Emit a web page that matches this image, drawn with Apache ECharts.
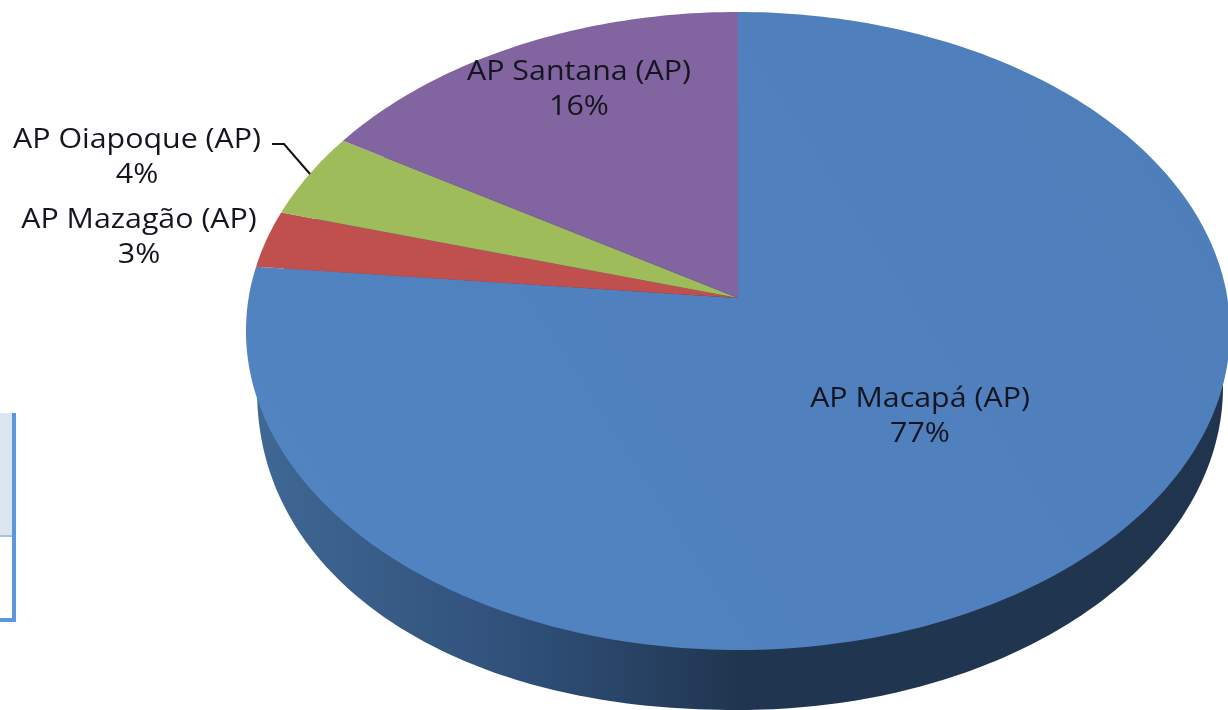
<!DOCTYPE html>
<html>
	<head>
		<meta charset="UTF-8">
		<title>Pizza AP</title>
		<style>html,body{margin:0;padding:0;background:#fff;}</style>
		<script src="https://cdn.jsdelivr.net/npm/echarts@6/dist/echarts.min.js"></script>
	</head>
	<body>
		<div id="main" style="width:1228px;height:710px;"></div>
		<script type="text/javascript">
		var categories = ['AP Macapá (AP)', 'AP Mazagão (AP)', 'AP Oiapoque (AP)', 'AP Santana (AP)'];
		var values = [76.6, 2.9, 4.3, 16.2];
		var colors = ['#4f81bf', '#c0504d', '#9fbc5a', '#8264a1'];

		// onde fica o texto de cada fatia (topo da primeira linha)
		var labelPos = [[920, 382], [139, 203], [137, 123], [579, 55]];
		var total = values.reduce(function (a, b) { return a + b; }, 0);

		// topo da pizza em perspectiva: circulo unitario -> elipse, com o vertice em (738,298)
		var apex = [738, 298], kx = 489.4, ky = 315.6, persp = -0.1034;
		// contorno de baixo da borda lateral (o lado esquerdo e um pouco mais "cheio")
		var side = { cx: 739, cy: 387, rxLeft: 482, rxRight: 484, ry: 323, pLeft: 2.15, pRight: 2 };

		function project(frac) {
			var a = frac * Math.PI * 2, x = Math.sin(a), y = -Math.cos(a);
			var d = 1 + persp * y;
			return [apex[0] + kx * x / d, apex[1] + ky * y / d];
		}

		function sideOutline() {
			var ring = [];
			for (var t = 0; t < 360; t++) {
				var r = t * Math.PI / 180, c = Math.cos(r), s = Math.sin(r);
				var left = c < 0;
				var e = 2 / (left ? side.pLeft : side.pRight);
				ring.push([
					side.cx + (left ? side.rxLeft : side.rxRight) * (c < 0 ? -1 : 1) * Math.pow(Math.abs(c), e),
					side.cy + side.ry * (s < 0 ? -1 : 1) * Math.pow(Math.abs(s), e)
				]);
			}
			return ring;
		}

		function renderSlice(params, api) {
			var i = params.dataIndex, value = api.value(0), before = 0;
			for (var j = 0; j < i; j++) before += values[j];
			var from = before / total, to = (before + value) / total;
			var pts = [apex], n = Math.ceil((to - from) * 360);
			for (var s = 0; s <= n; s++) pts.push(project(from + (to - from) * s / n));

			var children = [];
			var fill = api.visual('color');
			if (i === 0) {
				children.push({
					type: 'polygon',
					shape: { points: sideOutline() },
					style: {
						fill: new echarts.graphic.LinearGradient(0, 0, 1, 0, [
							{ offset: 0, color: '#3f6894' },
							{ offset: 0.28, color: '#2f4f78' },
							{ offset: 0.5, color: '#203650' },
							{ offset: 1, color: '#20344e' }
						])
					}
				});
				fill = new echarts.graphic.LinearGradient(0, 1, 1, 0, [
					{ offset: 0, color: '#5284c2' },
					{ offset: 1, color: '#4e7eba' }
				]);
			}
			children.push({
				type: 'polygon',
				shape: { points: pts },
				style: { fill: fill }
			});
			return { type: 'group', children: children };
		}

		var myChart = echarts.init(document.getElementById('main'));
		var option = {
			backgroundColor: '#fff',
			animation: false,
			graphic: {
				elements: [
					{ type: 'rect', shape: { x: 0, y: 413, width: 12, height: 123 }, style: { fill: '#dce6f1' } },
					{ type: 'rect', shape: { x: 0, y: 535, width: 12, height: 2 }, style: { fill: '#a9c2e2' } },
					{ type: 'rect', shape: { x: 12, y: 413, width: 4, height: 209 }, style: { fill: '#5b96de' } },
					{ type: 'rect', shape: { x: 0, y: 618, width: 16, height: 4 }, style: { fill: '#5b96de' } },
					{
						type: 'polyline', z: 10,
						shape: { points: [[272, 144], [284, 144], [310, 174]] },
						style: { stroke: '#111', lineWidth: 2, fill: null }
					}
				].concat(categories.map(function (name, i) {
					return {
						type: 'text', z: 10,
						x: labelPos[i][0], y: labelPos[i][1],
						scaleX: 1.125,
						style: {
							text: name + '\n' + Math.round(values[i]) + '%',
							font: '27px "Open Sans"',
							fill: '#15151f',
							align: 'center',
							verticalAlign: 'top',
							lineHeight: 35
						}
					};
				}))
			},
			series: [{
				type: 'custom',
				coordinateSystem: 'none',
				renderItem: renderSlice,
				data: values.map(function (v, i) {
					return { name: categories[i], value: [v], itemStyle: { color: colors[i] } };
				})
			}]
		};
		myChart.setOption(option);
		</script>
	</body>
</html>
